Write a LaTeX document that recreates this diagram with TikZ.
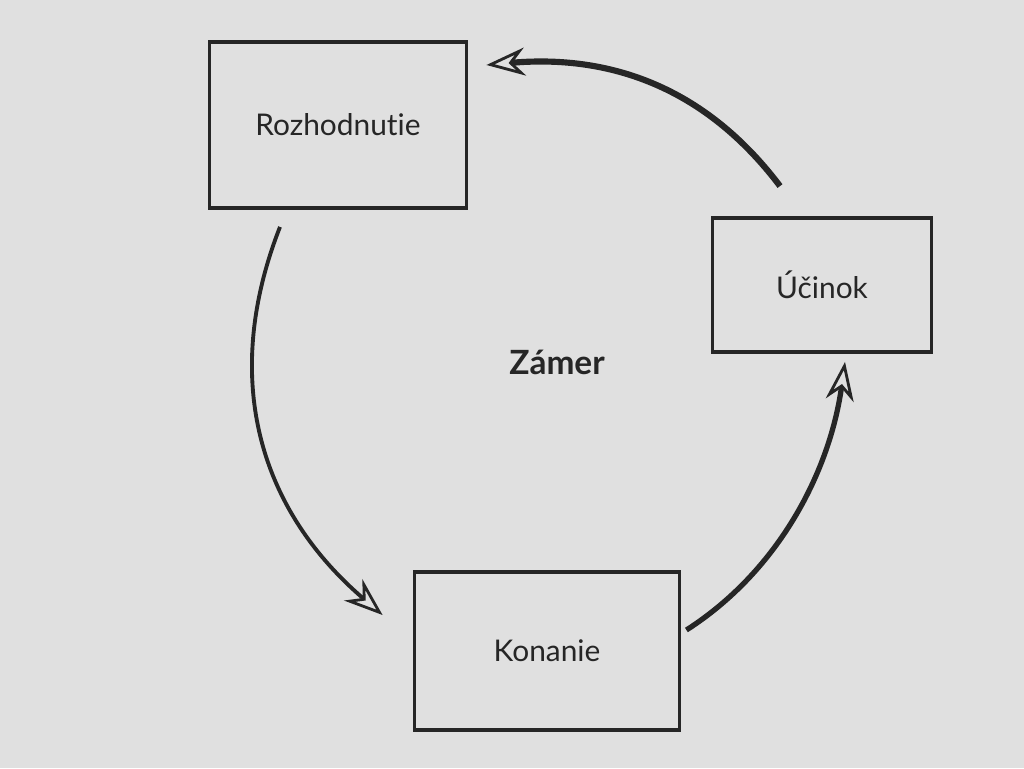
\documentclass[tikz,border=0pt]{standalone}
\usepackage{fontspec}
\setmainfont{Lato}
\usetikzlibrary{arrows.meta,calc}
\begin{document}
\begin{tikzpicture}[x=0.02cm,y=-0.02cm,
  box/.style={draw=black!85,line width=2.2pt,minimum width=5.14cm,minimum height=3.32cm,inner sep=0pt,font=\fontsize{17}{20}\selectfont,text=black!85},
  arr/.style={draw=black!85,line width=2.2pt,-{Stealth[length=22pt,width=16pt,open,line width=1.6pt]}}]
\fill[black!12] (0,0) rectangle (1024,768);
\node[box] (r) at (338,125) {Rozhodnut\kern0pt ie};
\node[box,minimum width=4.38cm,minimum height=2.68cm] (u) at (822,285) {Účinok};
\node[box,minimum width=5.3cm,minimum height=3.16cm] (k) at (547,651) {Konanie};
\node[font=\fontsize{19}{22}\selectfont\bfseries,text=black!85] (z) at (557,362) {Zámer};
\draw[arr,line width=3.5pt] ($(u.north)+(-42,-30)$) .. controls (700,80) and (600,55) .. ($(r.east)+(18,-60)$);
\draw[arr] ($(r.south)+(-58,17)$) .. controls (220,380) and (260,510) .. ($(k.west)+(-30,-36)$);
\draw[arr,line width=3pt] ($(k.east)+(5,-21)$) .. controls (780,570) and (830,470) .. ($(u.south)+(23,8)$);
\end{tikzpicture}
\end{document}
